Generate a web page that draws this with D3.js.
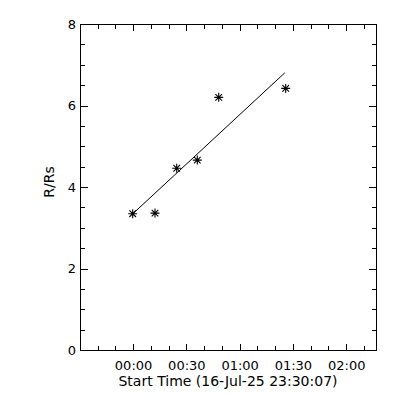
<!DOCTYPE html>
<html>
<head>
<meta charset="utf-8">
<script src="https://cdn.jsdelivr.net/npm/d3@7"></script>
<style>
  body { margin: 0; background: #fff; }
  text { font-family: "DejaVu Sans", sans-serif; font-size: 13px; fill: #000; }
  .tick line { stroke: #000; stroke-width: 1; shape-rendering: crispEdges; }
</style>
</head>
<body>
<div id="chart"></div>
<script>
// start time of the x axis is 16-Jul-25 23:30:07
var startTime = "23:30:07";
var startLabel = "Start Time (16-Jul-25 23:30:07)";

// measured points (clock time, height in R/Rs)
var pointTimes = ["23:59:47", "00:12:21", "00:24:34", "00:36:10", "00:48:13", "01:25:56"];
var pointHeights = [3.345, 3.36, 4.46, 4.66, 6.20, 6.42];

// fitted line end points
var fitTimes = ["23:59:47", "01:25:23"];
var fitHeights = [3.34, 6.80];

var xTickTimes = ["00:00:00", "00:30:00", "01:00:00", "01:30:00", "02:00:00"];
var xTickLabels = ["00:00", "00:30", "01:00", "01:30", "02:00"];
var xMinorTimes = ["23:40:00", "23:50:00", "00:10:00", "00:20:00", "00:40:00", "00:50:00",
                   "01:10:00", "01:20:00", "01:40:00", "01:50:00", "02:10:00"];
var yTicks = [0, 2, 4, 6, 8];
var yMinor = [0.5, 1, 1.5, 2.5, 3, 3.5, 4.5, 5, 5.5, 6.5, 7, 7.5];

var width = 400, height = 400;
var margin = {left: 80, right: 24, top: 24, bottom: 50};

// seconds since start time, wrapping past midnight
function secs(s) {
  var p = s.split(":").map(Number);
  var t = p[0] * 3600 + p[1] * 60 + p[2];
  var p0 = startTime.split(":").map(Number);
  var t0 = p0[0] * 3600 + p0[1] * 60 + p0[2];
  var d = t - t0;
  if (d < 0) d += 86400;
  return d;
}

var svg = d3.select("#chart").append("svg")
    .attr("width", width).attr("height", height);

var x = d3.scaleLinear().domain([0, 10000])
    .range([margin.left, width - margin.right]);
var y = d3.scaleLinear().domain([0, 8])
    .range([height - margin.bottom, margin.top]);

var x0 = x.range()[0], x1 = x.range()[1];
var y0 = y.range()[0], y1 = y.range()[1];

// frame
svg.append("rect")
  .attr("x", x0 + 0.5).attr("y", y1 + 0.5)
  .attr("width", x1 - x0).attr("height", y0 - y1)
  .attr("fill", "none").attr("stroke", "#000")
  .attr("shape-rendering", "crispEdges");

var major = xTickTimes.map(secs);
var minor = xMinorTimes.map(secs);

function addAxis(axis, tx, ty) {
  var g = svg.append("g").attr("transform", "translate(" + tx + "," + ty + ")").call(axis);
  g.select(".domain").remove();
  g.selectAll("text").attr("font-family", null).attr("font-size", null);
  return g;
}

// bottom axis with labels
addAxis(d3.axisBottom(x).tickValues(major)
    .tickFormat(function(d, i) { return xTickLabels[i]; })
    .tickSize(-6).tickSizeOuter(0).tickPadding(11), 0, y0);
addAxis(d3.axisBottom(x).tickValues(minor).tickFormat("").tickSize(-4).tickSizeOuter(0), 0, y0);

// top axis, no labels
addAxis(d3.axisTop(x).tickValues(major).tickFormat("").tickSize(-6).tickSizeOuter(0), 0, y1 + 1);
addAxis(d3.axisTop(x).tickValues(minor).tickFormat("").tickSize(-4).tickSizeOuter(0), 0, y1 + 1);

// left axis with labels
addAxis(d3.axisLeft(y).tickValues(yTicks).tickFormat(d3.format("d"))
    .tickSize(-7).tickSizeOuter(0).tickPadding(5), x0 + 1, 0);
addAxis(d3.axisLeft(y).tickValues(yMinor).tickFormat("").tickSize(-4).tickSizeOuter(0), x0 + 1, 0);

// right axis, no labels
addAxis(d3.axisRight(y).tickValues(yTicks).tickFormat("").tickSize(-7).tickSizeOuter(0), x1, 0);
addAxis(d3.axisRight(y).tickValues(yMinor).tickFormat("").tickSize(-4).tickSizeOuter(0), x1, 0);

// axis titles
svg.append("text")
  .attr("x", (x0 + x1) / 2).attr("y", y0 + 36)
  .attr("text-anchor", "middle")
  .style("font-size", "14px")
  .text(startLabel);

svg.append("text")
  .attr("transform", "translate(54," + ((y0 + y1) / 2 - 5) + ") rotate(-90)")
  .attr("text-anchor", "middle")
  .style("font-size", "14px")
  .text("R/Rs");

// fitted line
var fitLine = d3.line()
  .x(function(d, i) { return x(secs(fitTimes[i])); })
  .y(function(d) { return y(d); });
svg.append("path")
  .attr("d", fitLine(fitHeights))
  .attr("fill", "none").attr("stroke", "#000").attr("stroke-width", 1);

// asterisk markers
var r = 4.5, rd = 3.3;
var star = "M" + (-r) + ",0H" + r + "M0," + (-r) + "V" + r +
           "M" + (-rd) + "," + (-rd) + "L" + rd + "," + rd +
           "M" + (-rd) + "," + rd + "L" + rd + "," + (-rd);
svg.append("g").selectAll("path.pt").data(pointHeights).enter().append("path")
  .attr("class", "pt")
  .attr("transform", function(d, i) {
    return "translate(" + x(secs(pointTimes[i])) + "," + y(d) + ")";
  })
  .attr("d", star)
  .attr("fill", "none").attr("stroke", "#000").attr("stroke-width", 1.1);
</script>
</body>
</html>
